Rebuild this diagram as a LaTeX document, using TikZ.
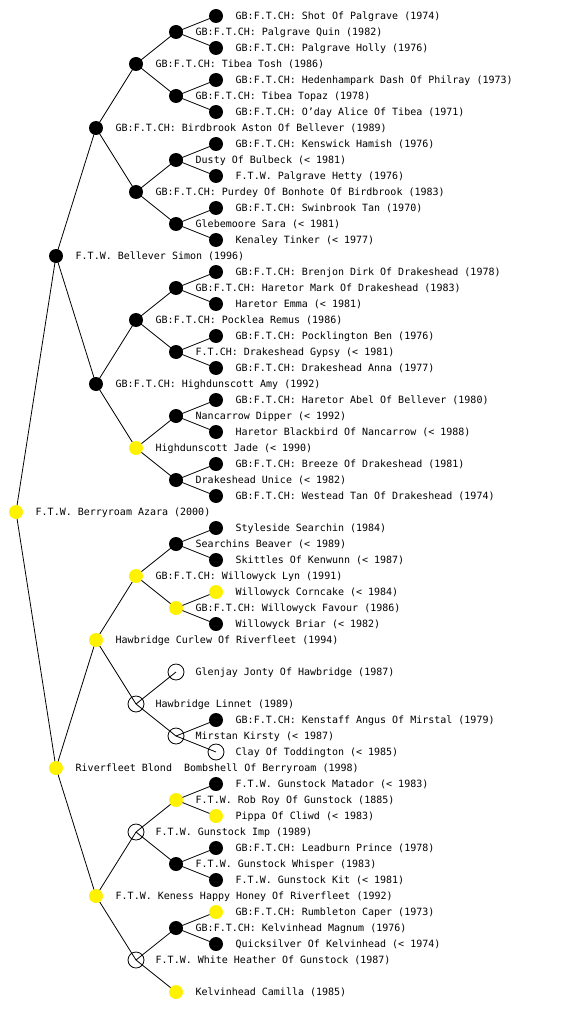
\documentclass[tikz,border=0pt]{standalone}
\usepackage{fontspec}
\setmonofont{DejaVu Sans Mono}
\pgfdeclarelayer{bg}
\pgfsetlayers{bg,main}
\tikzset{
  dog/.style={circle, inner sep=0pt, minimum size=14pt},
  blk/.style={dog, fill=black},
  yel/.style={dog, fill=yellow},
  opn/.style={circle, inner sep=0pt, minimum size=16pt, draw=black, line width=0.8pt},
  lbl/.style={anchor=base west, inner sep=0pt, font=\ttfamily\fontsize{10}{12}\selectfont, text=black},
  edge/.style={draw=black, line width=0.8pt}
}
\newcommand{\dognode}[5]{%
  \node[#4] (n#3) at (#2,#3) {};
  \node[lbl] (t#3) at ([xshift=19.5pt,yshift=-3.8pt]n#3.center) {#5};
}
\begin{document}
\begin{tikzpicture}[x=1pt,y=-1pt]
\useasboundingbox (0,0) rectangle (560,1024);
% level 5 = 216, level 4 = 176, level 3 = 136, level 2 = 96, level 1 = 56, level 0 = 16
\dognode{5}{216}{16}{blk}{GB:F.T.CH: Shot Of Palgrave (1974)}
\dognode{4}{176}{32}{blk}{GB:F.T.CH: Palgrave Quin (1982)}
\dognode{5}{216}{48}{blk}{GB:F.T.CH: Palgrave Holly (1976)}
\dognode{3}{136}{64}{blk}{GB:F.T.CH: Tibea Tosh (1986)}
\dognode{5}{216}{80}{blk}{GB:F.T.CH: Hedenhampark Dash Of Philray (1973)}
\dognode{4}{176}{96}{blk}{GB:F.T.CH: Tibea Topaz (1978)}
\dognode{5}{216}{112}{blk}{GB:F.T.CH: O’day Alice Of Tibea (1971)}
\dognode{2}{96}{128}{blk}{GB:F.T.CH: Birdbrook Aston Of Bellever (1989)}
\dognode{5}{216}{144}{blk}{GB:F.T.CH: Kenswick Hamish (1976)}
\dognode{4}{176}{160}{blk}{Dusty Of Bulbeck (< 1981)}
\dognode{5}{216}{176}{blk}{F.T.W. Palgrave Hetty (1976)}
\dognode{3}{136}{192}{blk}{GB:F.T.CH: Purdey Of Bonhote Of Birdbrook (1983)}
\dognode{5}{216}{208}{blk}{GB:F.T.CH: Swinbrook Tan (1970)}
\dognode{4}{176}{224}{blk}{Glebemoore Sara (< 1981)}
\dognode{5}{216}{240}{blk}{Kenaley Tinker (< 1977)}
\dognode{1}{56}{256}{blk}{F.T.W. Bellever Simon (1996)}
\dognode{5}{216}{272}{blk}{GB:F.T.CH: Brenjon Dirk Of Drakeshead (1978)}
\dognode{4}{176}{288}{blk}{GB:F.T.CH: Haretor Mark Of Drakeshead (1983)}
\dognode{5}{216}{304}{blk}{Haretor Emma (< 1981)}
\dognode{3}{136}{320}{blk}{GB:F.T.CH: Pocklea Remus (1986)}
\dognode{5}{216}{336}{blk}{GB:F.T.CH: Pocklington Ben (1976)}
\dognode{4}{176}{352}{blk}{F.T.CH: Drakeshead Gypsy (< 1981)}
\dognode{5}{216}{368}{blk}{GB:F.T.CH: Drakeshead Anna (1977)}
\dognode{2}{96}{384}{blk}{GB:F.T.CH: Highdunscott Amy (1992)}
\dognode{5}{216}{400}{blk}{GB:F.T.CH: Haretor Abel Of Bellever (1980)}
\dognode{4}{176}{416}{blk}{Nancarrow Dipper (< 1992)}
\dognode{5}{216}{432}{blk}{Haretor Blackbird Of Nancarrow (< 1988)}
\dognode{3}{136}{448}{yel}{Highdunscott Jade (< 1990)}
\dognode{5}{216}{464}{blk}{GB:F.T.CH: Breeze Of Drakeshead (1981)}
\dognode{4}{176}{480}{blk}{Drakeshead Unice (< 1982)}
\dognode{5}{216}{496}{blk}{GB:F.T.CH: Westead Tan Of Drakeshead (1974)}
\dognode{0}{16}{512}{yel}{F.T.W. Berryroam Azara (2000)}
\dognode{5}{216}{528}{blk}{Styleside Searchin (1984)}
\dognode{4}{176}{544}{blk}{Searchins Beaver (< 1989)}
\dognode{5}{216}{560}{blk}{Skittles Of Kenwunn (< 1987)}
\dognode{3}{136}{576}{yel}{GB:F.T.CH: Willowyck Lyn (1991)}
\dognode{5}{216}{592}{yel}{Willowyck Corncake (< 1984)}
\dognode{4}{176}{608}{yel}{GB:F.T.CH: Willowyck Favour (1986)}
\dognode{5}{216}{624}{blk}{Willowyck Briar (< 1982)}
\dognode{2}{96}{640}{yel}{Hawbridge Curlew Of Riverfleet (1994)}
\dognode{4}{176}{672}{opn}{Glenjay Jonty Of Hawbridge (1987)}
\dognode{3}{136}{704}{opn}{Hawbridge Linnet (1989)}
\dognode{5}{216}{720}{blk}{GB:F.T.CH: Kenstaff Angus Of Mirstal (1979)}
\dognode{4}{176}{736}{opn}{Mirstan Kirsty (< 1987)}
\dognode{5}{216}{752}{opn}{Clay Of Toddington (< 1985)}
\dognode{1}{56}{768}{yel}{Riverfleet Blond\ \ Bombshell Of Berryroam (1998)}
\dognode{5}{216}{784}{blk}{F.T.W. Gunstock Matador (< 1983)}
\dognode{4}{176}{800}{yel}{F.T.W. Rob Roy Of Gunstock (1885)}
\dognode{5}{216}{816}{yel}{Pippa Of Cliwd (< 1983)}
\dognode{3}{136}{832}{opn}{F.T.W. Gunstock Imp (1989)}
\dognode{5}{216}{848}{blk}{GB:F.T.CH: Leadburn Prince (1978)}
\dognode{4}{176}{864}{blk}{F.T.W. Gunstock Whisper (1983)}
\dognode{5}{216}{880}{blk}{F.T.W. Gunstock Kit (< 1981)}
\dognode{2}{96}{896}{yel}{F.T.W. Keness Happy Honey Of Riverfleet (1992)}
\dognode{5}{216}{912}{yel}{GB:F.T.CH: Rumbleton Caper (1973)}
\dognode{4}{176}{928}{blk}{GB:F.T.CH: Kelvinhead Magnum (1976)}
\dognode{5}{216}{944}{blk}{Quicksilver Of Kelvinhead (< 1974)}
\dognode{3}{136}{960}{opn}{F.T.W. White Heather Of Gunstock (1987)}
\dognode{4}{176}{992}{yel}{Kelvinhead Camilla (1985)}
\begin{pgfonlayer}{bg}
\foreach \p/\a/\b in {512/256/768, 256/128/384, 768/640/896,
  128/64/192, 384/320/448, 640/576/704, 896/832/960,
  64/32/96, 192/160/224, 320/288/352, 448/416/480, 576/544/608, 704/672/736, 832/800/864, 960/928/992,
  32/16/48, 96/80/112, 160/144/176, 224/208/240, 288/272/304, 352/336/368, 416/400/432, 480/464/496,
  544/528/560, 608/592/624, 736/720/752, 800/784/816, 864/848/880, 928/912/944}
{
  \draw[edge] (n\p.center) -- (n\a.center);
  \draw[edge] (n\p.center) -- (n\b.center);
}
\end{pgfonlayer}
\end{tikzpicture}
\end{document}
